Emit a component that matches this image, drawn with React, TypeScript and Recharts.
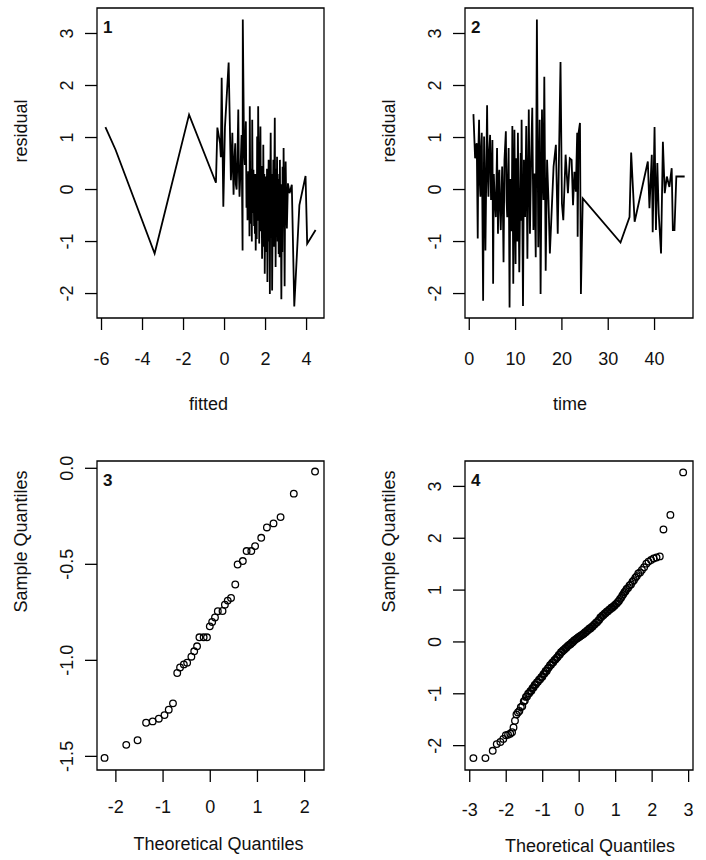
import React from "react";

//recharts
import { ComposedChart, Line, Scatter, XAxis, YAxis, ReferenceArea } from "recharts";

const FONT = '"Liberation Sans", Arial, Helvetica, sans-serif';
const INK = "#111";

//panel 1: residual against fitted
const fittedX = [
  -5.81, -5.31, -3.41, -1.73, -0.42, -0.35, -0.22, -0.18, -0.14, -0.06,
  0.02, 0.2, 0.31, 0.34, 0.38, 0.42, 0.44, 0.48, 0.52, 0.55,
  0.59, 0.63, 0.67, 0.7, 0.73, 0.78, 0.83, 0.88, 0.89, 0.95,
  0.99, 1.04, 1.07, 1.1, 1.12, 1.15, 1.18, 1.2, 1.215, 1.23,
  1.26, 1.27, 1.28, 1.31, 1.33, 1.35, 1.38, 1.41, 1.44, 1.46,
  1.48, 1.5, 1.52, 1.55, 1.57, 1.59, 1.62, 1.64, 1.67, 1.68,
  1.69, 1.72, 1.75, 1.78, 1.8, 1.83, 1.86, 1.875, 1.89, 1.92,
  1.94, 1.96, 1.99, 2.02, 2.05, 2.07, 2.09, 2.12, 2.15, 2.18,
  2.195, 2.21, 2.23, 2.25, 2.28, 2.3, 2.32, 2.35, 2.38, 2.4,
  2.45, 2.47, 2.48, 2.49, 2.52, 2.54, 2.56, 2.59, 2.61, 2.64,
  2.67, 2.685, 2.7, 2.72, 2.74, 2.77, 2.8, 2.815, 2.83, 2.86,
  2.88, 2.93, 2.95, 2.98, 3.01, 3.04, 3.09, 3.17, 3.28, 3.4,
  3.65, 3.95, 4.03, 4.44,
];
const fittedResid = [
  1.2, 0.76, -1.23, 1.44, 0.13, 1.19, 0.89, 0.62, 2.15, -0.33,
  1.2, 2.44, 0.18, 0.45, 1.09, 0.25, -0.1, 0.55, 0.89, 0.1,
  0.0, 0.6, 1.54, 0.35, -0.14, 0.4, 1.05, -1.17, 3.27, 0.8,
  0.47, 1.31, -0.35, 0.3, -0.59, 0.35, -0.55, 0.25, -0.9, 1.6,
  -0.5, 0.2, -0.66, 0.4, -1.0, 1.34, -0.45, 0.38, -0.7, 0.15,
  -0.85, 0.3, -1.17, 0.2, -0.95, 1.02, -0.6, 1.6, -0.4, 0.5,
  -1.04, 0.35, 1.21, -0.8, 0.45, -1.33, 0.1, -0.8, 0.86, -1.1,
  0.3, -1.62, -0.2, 0.25, -1.2, 0.4, -1.78, -0.3, 0.57, -1.0,
  0.2, -2.01, 0.1, 1.09, -0.9, 0.3, -1.94, -0.4, 0.57, -1.1,
  1.38, -0.6, 0.1, -1.49, 0.4, -0.8, 0.63, -1.0, 0.2, -1.24,
  0.3, -1.3, 0.57, -0.9, 0.1, -2.11, -0.3, -1.2, 0.44, -0.7,
  0.8, -1.86, -0.4, 0.54, -0.3, -0.75, 0.12, -0.07, 0.09, -2.25,
  -0.3, 0.26, -1.04, -0.78,
];

//panel 2: residual against time
const timeX = [
  0.9, 1.26, 1.45, 1.62, 1.83, 1.95, 2.12, 2.25, 2.41, 2.55, 2.7, 2.99, 3.2, 3.35, 3.49, 3.7,
  3.85, 4.0, 4.14, 4.3, 4.5, 4.7, 4.86, 5.0, 5.15, 5.3, 5.44, 5.73, 6.0, 6.2, 6.35, 6.5, 6.65,
  6.8, 7.1, 7.25, 7.4, 7.6, 7.9, 8.05, 8.2, 8.5, 8.7, 8.85, 9.0, 9.15, 9.3, 9.5, 9.75, 10.0,
  10.1, 10.25, 10.35, 10.5, 10.8, 11.1, 11.2, 11.3, 11.6, 11.8, 12.05, 12.3, 12.55, 12.85, 13.1,
  13.35, 13.6, 13.85, 14.1, 14.35, 14.6, 14.9, 15.2, 15.4, 15.7, 15.85, 16.0, 16.2, 16.5, 16.8,
  17.1, 17.4, 18.2, 18.7, 19.1, 19.7, 20.0, 20.3, 20.8, 21.3, 21.7, 22.1, 22.4, 22.7, 23.0, 23.3,
  23.4, 23.6, 23.9, 24.1, 24.5, 32.65, 34.6, 34.95, 35.7, 38.55, 38.9, 39.4, 39.6, 40.0, 40.3,
  40.6, 40.9, 41.4, 41.8, 42.2, 42.65, 43.2, 43.7, 43.95, 44.3, 44.7, 46.5,
];
const timeResid = [
  1.45, 0.6, 0.85, 0.89, -0.94, 0.7, 1.34, 0.2, -0.14, 0.8, 1.09, -2.14, 1.02, 0.1, -1.17, 0.5,
  1.62, 0.3, -0.14, 0.7, 1.05, -0.2, 0.25, 0.95, -1.81, 0.3, -0.07, -0.53, 0.8, -0.85, 0.2, 0.38, -0.4,
  -0.78, 0.44, -0.3, -1.4, 0.57, 1.12, -0.2, -0.53, 0.8, -2.27, 0.2, -0.01, -0.8, 1.22, -1.81, 1.15, -1.43,
  0.6, 0.31, -1.0, 1.09, -1.59, 0.7, -0.6, 1.34, -2.24, 0.57, -0.53, 1.22, -1.33, 1.54, -0.85,
  0.57, 1.57, -0.78, 0.31, -1.3, 3.27, -1.11, 1.34, -2.01, 1.54, 0.3, -0.2, 2.17, -1.56, 0.57,
  -0.2, -1.23, 0.44, 0.86, -0.85, 2.45, -0.27, -0.59, 0.67, -0.07, 0.6, 0.57, -0.3, 0.34, -0.04, 1.09,
  -0.91, 1.09, 1.28, -2.01, -0.17, -1.02, -0.53, 0.71, -0.62, 0.54, -0.36, 0.67, -0.82, 1.2, -0.78,
  0.51, -0.46, -1.23, 0.92, -0.07, 0.25, 0.05, 0.41, -0.78, -0.78, 0.25, 0.25,
];

//panel 3: normal Q-Q of the small sample
const smallTheo = [
  -2.24, -1.78, -1.54, -1.36, -1.22, -1.09, -0.97, -0.88, -0.79, -0.7, -0.64, -0.56, -0.49,
  -0.4, -0.34, -0.28, -0.23, -0.14, -0.07, -0.01, 0.04, 0.1, 0.16, 0.26, 0.31, 0.37, 0.44, 0.53,
  0.58, 0.69, 0.77, 0.87, 0.95, 1.08, 1.2, 1.34, 1.49, 1.77, 2.22,
];
const smallSample = [
  -1.508, -1.44, -1.416, -1.325, -1.318, -1.304, -1.285, -1.257, -1.224, -1.066, -1.037, -1.021,
  -1.012, -0.981, -0.953, -0.927, -0.88, -0.88, -0.88, -0.823, -0.8, -0.777, -0.744, -0.743, -0.71,
  -0.689, -0.675, -0.605, -0.501, -0.483, -0.431, -0.431, -0.405, -0.362, -0.308, -0.287, -0.254,
  -0.132, -0.017,
];

//panel 4: normal Q-Q of the residuals
const residTheo = [
  -2.9, -2.57, -2.37, -2.26, -2.16, -2.08, -2.01, -1.95, -1.89, -1.84, -1.8, -1.76, -1.72, -1.68,
  -1.64, -1.6, -1.56, -1.52, -1.49, -1.46, -1.43, -1.4, -1.37, -1.34, -1.31, -1.28, -1.25, -1.22,
  -1.19, -1.16, -1.13, -1.1, -1.07, -1.04, -1.01, -0.98, -0.95, -0.92, -0.89, -0.86, -0.83, -0.8,
  -0.77, -0.74, -0.71, -0.68, -0.65, -0.62, -0.59, -0.56, -0.53, -0.5, -0.47, -0.44, -0.41, -0.38,
  -0.35, -0.32, -0.29, -0.26, -0.23, -0.2, -0.17, -0.14, -0.11, -0.08, -0.05, -0.02, 0.01, 0.04,
  0.07, 0.1, 0.13, 0.16, 0.19, 0.22, 0.25, 0.28, 0.31, 0.34, 0.37, 0.4, 0.43, 0.46, 0.49, 0.52,
  0.55, 0.58, 0.61, 0.64, 0.67, 0.7, 0.73, 0.76, 0.79, 0.82, 0.85, 0.88, 0.91, 0.94, 0.97, 1.0,
  1.03, 1.06, 1.09, 1.12, 1.15, 1.18, 1.21, 1.24, 1.27, 1.3, 1.34, 1.38, 1.42, 1.46, 1.5, 1.54,
  1.58, 1.62, 1.67, 1.72, 1.78, 1.84, 1.9, 1.97, 2.04, 2.12, 2.21, 2.31, 2.5, 2.85,
];
const residSample = [
  -2.24, -2.24, -2.1, -1.97, -1.93, -1.87, -1.8, -1.79, -1.77, -1.74, -1.65, -1.52, -1.4, -1.36,
  -1.33, -1.26, -1.24, -1.15, -1.13, -1.06, -1.05, -1.0, -0.99, -0.95, -0.94, -0.89, -0.88, -0.83,
  -0.82, -0.78, -0.77, -0.73, -0.72, -0.68, -0.67, -0.62, -0.61, -0.56, -0.56, -0.51, -0.49, -0.45,
  -0.44, -0.4, -0.39, -0.35, -0.34, -0.31, -0.29, -0.25, -0.24, -0.2, -0.19, -0.16, -0.15, -0.12,
  -0.11, -0.08, -0.07, -0.05, -0.04, -0.01, 0.0, 0.03, 0.04, 0.06, 0.07, 0.09, 0.1, 0.12,
  0.13, 0.15, 0.16, 0.19, 0.19, 0.22, 0.23, 0.26, 0.26, 0.29, 0.3, 0.33, 0.34, 0.37, 0.38, 0.41,
  0.43, 0.47, 0.48, 0.51, 0.52, 0.55, 0.56, 0.59, 0.59, 0.62, 0.63, 0.66, 0.66, 0.69, 0.7, 0.73,
  0.74, 0.77, 0.79, 0.83, 0.85, 0.89, 0.92, 0.96, 0.98, 1.02, 1.04, 1.09, 1.11, 1.16, 1.19, 1.24,
  1.27, 1.32, 1.34, 1.39, 1.44, 1.51, 1.55, 1.58, 1.61, 1.63, 1.65, 2.17, 2.45, 3.27,
];

//tick values
const fittedTicks = [-6, -4, -2, 0, 2, 4];
const timeTicks = [0, 10, 20, 30, 40];
const residTicks = [-2, -1, 0, 1, 2, 3];
const smallTheoTicks = [-2, -1, 0, 1, 2];
const smallSampleTicks = [-1.5, -1.0, -0.5, 0.0];
const residTheoTicks = [-3, -2, -1, 0, 1, 2, 3];

const XTick = ({ x, y, payload, dy }: any) => (
  <text x={x} y={y + dy} textAnchor="middle" fontFamily={FONT} fontSize={18} fill={INK}>
    {payload.value}
  </text>
);

const YTick = ({ x, y, payload, digits }: any) => (
  <text
    transform={`translate(${x - 12},${y}) rotate(-90)`}
    textAnchor="middle"
    fontFamily={FONT}
    fontSize={18}
    fill={INK}
  >
    {Number(payload.value).toFixed(digits)}
  </text>
);

const XTitle = ({ viewBox, text, dx, dy }: any) => {
  const vb = viewBox || { x: 0, y: 0, width: 0 };
  return (
    <text x={vb.x + vb.width / 2 + dx} y={vb.y + dy} textAnchor="middle" fontFamily={FONT} fontSize={18} fill={INK}>
      {text}
    </text>
  );
};

const YTitle = ({ viewBox, text, dx, dy }: any) => {
  const vb = viewBox || { x: 0, y: 0, width: 0, height: 0 };
  const bx = vb.x + vb.width + dx;
  const cy = vb.y + vb.height / 2 + dy;
  return (
    <text transform={`translate(${bx},${cy}) rotate(-90)`} textAnchor="middle" fontFamily={FONT} fontSize={18} fill={INK}>
      {text}
    </text>
  );
};

const PanelTag = ({ viewBox, text }: any) => {
  const vb = viewBox || { x: 0, y: 0 };
  return (
    <text x={vb.x + 6} y={vb.y + 25} fontFamily={FONT} fontSize={17} fontWeight="bold" fill={INK}>
      {text}
    </text>
  );
};

//ts
interface IPanelProps {
  left: number;
  top: number;
  margin: { top: number; right: number; bottom: number; left: number };
  xs: number[];
  ys: number[];
  mode: "line" | "points";
  xDomain: [number, number];
  yDomain: [number, number];
  xTicks: number[];
  yTicks: number[];
  yDigits: number;
  tag: string;
  xTitle: string;
  yTitle: string;
  xTitleDx: number;
  xTitleDy: number;
  yTitleDy: number;
  xTickDy: number;
}

const Panel = (p: IPanelProps) => {
  const rows = p.xs.map((x, i) => ({ x, y: p.ys[i] }));
  return (
    <div style={{ position: "absolute", left: p.left, top: p.top }}>
      <ComposedChart width={353} height={430} data={rows} margin={p.margin}>
        <XAxis
          type="number"
          dataKey="x"
          domain={p.xDomain}
          ticks={p.xTicks}
          interval={0}
          allowDataOverflow
          axisLine={false}
          tickLine={{ stroke: "#000", strokeWidth: 1.3 }}
          tickSize={12}
          tickMargin={0}
          height={90}
          tick={<XTick dy={p.xTickDy} />}
          label={<XTitle text={p.xTitle} dx={p.xTitleDx} dy={p.xTitleDy} />}
        />
        <YAxis
          type="number"
          domain={p.yDomain}
          ticks={p.yTicks}
          interval={0}
          allowDataOverflow
          axisLine={false}
          tickLine={{ stroke: "#000", strokeWidth: 1.3 }}
          tickSize={12}
          tickMargin={0}
          width={60}
          tick={<YTick digits={p.yDigits} />}
          label={<YTitle text={p.yTitle} dx={-70} dy={p.yTitleDy} />}
        />
        {p.mode === "line" ? (
          <Line
            dataKey="y"
            type="linear"
            stroke="#000"
            strokeWidth={1.8}
            dot={false}
            activeDot={false}
            isAnimationActive={false}
          />
        ) : (
          <Scatter
            dataKey="y"
            isAnimationActive={false}
            shape={(s: any) => <circle cx={s.cx} cy={s.cy} r={3.3} fill="none" stroke="#000" strokeWidth={1.3} />}
          />
        )}
        <ReferenceArea
          x1={p.xDomain[0]}
          x2={p.xDomain[1]}
          y1={p.yDomain[0]}
          y2={p.yDomain[1]}
          fill="none"
          stroke="#000"
          strokeWidth={1.3}
          ifOverflow="visible"
          label={<PanelTag text={p.tag} />}
        />
      </ComposedChart>
    </div>
  );
};

const App = () => {
  return (
    <div style={{ position: "absolute", left: 0, top: 0, width: 706, height: 860, background: "#fff" }}>
      <Panel
        left={0}
        top={0}
        margin={{ top: 8, right: 29, bottom: 22, left: 37 }}
        xs={fittedX}
        ys={fittedResid}
        mode="line"
        xDomain={[-6.22, 4.85]}
        yDomain={[-2.47, 3.49]}
        xTicks={fittedTicks}
        yTicks={residTicks}
        yDigits={0}
        tag="1"
        xTitle="fitted"
        yTitle="residual"
        xTitleDx={-2}
        xTitleDy={92}
        yTitleDy={-32}
        xTickDy={35}
      />
      <Panel
        left={353}
        top={0}
        margin={{ top: 8, right: 13, bottom: 22, left: 52 }}
        xs={timeX}
        ys={timeResid}
        mode="line"
        xDomain={[-0.92, 48.3]}
        yDomain={[-2.47, 3.49]}
        xTicks={timeTicks}
        yTicks={residTicks}
        yDigits={0}
        tag="2"
        xTitle="time"
        yTitle="residual"
        xTitleDx={-9}
        xTitleDy={92}
        yTitleDy={-32}
        xTickDy={35}
      />
      <Panel
        left={0}
        top={430}
        margin={{ top: 31, right: 29, bottom: 0, left: 37 }}
        xs={smallTheo}
        ys={smallSample}
        mode="points"
        xDomain={[-2.4, 2.41]}
        yDomain={[-1.571, 0.038]}
        xTicks={smallTheoTicks}
        yTicks={smallSampleTicks}
        yDigits={1}
        tag="3"
        xTitle="Theoretical Quantiles"
        yTitle="Sample Quantiles"
        xTitleDx={8}
        xTitleDy={80}
        yTitleDy={-74}
        xTickDy={31}
      />
      <Panel
        left={353}
        top={430}
        margin={{ top: 31, right: 13, bottom: 0, left: 52 }}
        xs={residTheo}
        ys={residSample}
        mode="points"
        xDomain={[-3.13, 3.12]}
        yDomain={[-2.47, 3.49]}
        xTicks={residTheoTicks}
        yTicks={residTicks}
        yDigits={0}
        tag="4"
        xTitle="Theoretical Quantiles"
        yTitle="Sample Quantiles"
        xTitleDx={11}
        xTitleDy={82}
        yTitleDy={-74}
        xTickDy={34}
      />
    </div>
  );
};

export default App;
